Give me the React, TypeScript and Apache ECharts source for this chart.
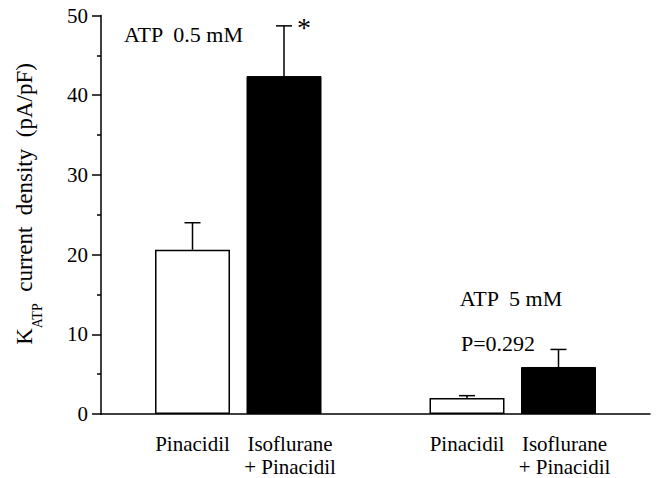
import React, { useEffect, useRef } from "react";
import * as echarts from "echarts";

const categories = ["", "Pinacidil", "Isoflurane\n+ Pinacidil", "", "Pinacidil", "Isoflurane\n+ Pinacidil", ""];
const meanValues: (number | string)[] = ["-", 20.6, 42.4, "-", 2.0, 5.9, "-"];
const errorTops: (number | string)[] = ["-", 24.0, 48.7, "-", 2.3, 8.1, "-"];
const barKinds = ["", "control", "treated", "", "control", "treated", ""];
const significance = ["", "", "*", "", "", "", ""];
const yTicks = [0, 10, 20, 30, 40, 50];

const FONT = "Liberation Serif";

export default function App() {
  const ref = useRef<HTMLDivElement>(null);
  useEffect(() => {
    if (!ref.current) return;
    const chart = echarts.init(ref.current, undefined, { renderer: "svg" });
    const barData = meanValues.map((v, i) =>
      v === "-"
        ? "-"
        : {
            value: v,
            itemStyle:
              barKinds[i] === "control"
                ? { color: "#ffffff", borderColor: "#000000", borderWidth: 1.5 }
                : { color: "#000000", borderColor: "#000000", borderWidth: 1 },
          }
    );
    const errData = categories
      .map((_, i) => [i, meanValues[i], errorTops[i], i])
      .filter((d) => d[1] !== "-");
    chart.setOption({
      animation: false,
      textStyle: { fontFamily: FONT, color: "#000" },
      grid: { left: 101, right: 8, top: 15.5, bottom: 64, containLabel: false },
      xAxis: {
        type: "category",
        data: categories,
        boundaryGap: false,
        axisLine: { lineStyle: { color: "#000", width: 1.5 } },
        axisTick: { show: false },
        splitLine: { show: false },
        axisLabel: {
          interval: 0,
          margin: 18,
          fontSize: 21,
          lineHeight: 23,
          color: "#000",
          fontFamily: FONT,
          formatter: (v: string) =>
            v.indexOf("\n") >= 0
              ? v
                  .split("\n")
                  .map((s) => `{iso|${s}}`)
                  .join("\n")
              : v,
          rich: {
            iso: { fontSize: 21, lineHeight: 23, padding: [0, 0, 0, 12], fontFamily: FONT, color: "#000" },
          },
        },
      },
      yAxis: {
        type: "value",
        min: yTicks[0],
        max: yTicks[yTicks.length - 1],
        interval: 10,
        axisLine: { show: true, lineStyle: { color: "#000", width: 1.5 } },
        axisTick: { show: true, inside: false, length: 9, lineStyle: { color: "#000", width: 1.5 } },
        minorTick: { show: true, splitNumber: 2, length: 4, lineStyle: { color: "#000", width: 1.5 } },
        splitLine: { show: false },
        axisLabel: { fontSize: 21, color: "#000", margin: 13, fontFamily: FONT },
      },
      series: [
        {
          type: "bar",
          data: barData,
          barWidth: 75,
          z: 2,
        },
        {
          type: "custom",
          z: 3,
          data: errData,
          renderItem: (params: any, api: any) => {
            const idx = api.value(0);
            const base = api.coord([idx, api.value(1)]);
            const top = api.coord([idx, api.value(2)]);
            const half = 8;
            const children: any[] = [
              {
                type: "line",
                shape: { x1: base[0], y1: base[1], x2: top[0], y2: top[1] },
                style: { stroke: "#000", lineWidth: 1.5 },
              },
              {
                type: "line",
                shape: { x1: top[0] - half, y1: top[1], x2: top[0] + half, y2: top[1] },
                style: { stroke: "#000", lineWidth: 1.5 },
              },
            ];
            const sig = significance[api.value(3)];
            if (sig) {
              children.push({
                type: "text",
                x: top[0] + 20,
                y: top[1] + 2,
                style: {
                  text: sig,
                  fontSize: 28,
                  fontFamily: FONT,
                  fill: "#000",
                  align: "center",
                  verticalAlign: "middle",
                },
              });
            }
            return { type: "group", children };
          },
        },
      ],
      graphic: [
        {
          type: "text",
          x: 183.5,
          y: 34,
          style: { text: "ATP  0.5 mM", fontSize: 22, fontFamily: FONT, fill: "#000", align: "center", verticalAlign: "middle" },
        },
        {
          type: "text",
          x: 511,
          y: 298,
          style: { text: "ATP  5 mM", fontSize: 22, fontFamily: FONT, fill: "#000", align: "center", verticalAlign: "middle" },
        },
        {
          type: "text",
          x: 498,
          y: 343,
          style: { text: "P=0.292", fontSize: 22, fontFamily: FONT, fill: "#000", align: "center", verticalAlign: "middle" },
        },
        {
          type: "text",
          x: 24,
          y: 204,
          rotation: Math.PI / 2,
          style: {
            text: "{k|K}{s|ATP}{t|  current  density  (pA/pF)}",
            align: "center",
            verticalAlign: "middle",
            fill: "#000",
            fontFamily: FONT,
            rich: {
              k: { fontSize: 23, lineHeight: 40, verticalAlign: "middle", fontFamily: FONT, fill: "#000" },
              s: { fontSize: 14, lineHeight: 14, verticalAlign: "bottom", fontFamily: FONT, fill: "#000" },
              t: { fontSize: 23, lineHeight: 40, verticalAlign: "middle", fontFamily: FONT, fill: "#000" },
            },
          },
        },
      ],
    });
    return () => chart.dispose();
  }, []);
  return <div ref={ref} style={{ position: "absolute", left: 0, top: 0, width: 658, height: 478 }} />;
}
